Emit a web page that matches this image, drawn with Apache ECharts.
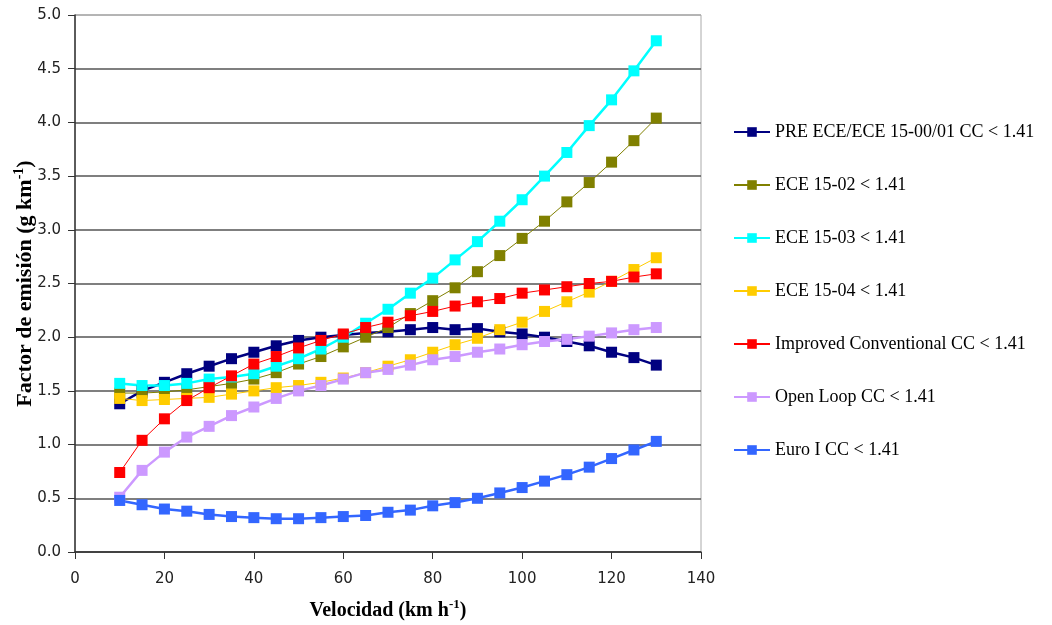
<!DOCTYPE html>
<html>
<head>
<meta charset="utf-8">
<script src="https://cdn.jsdelivr.net/npm/echarts@6/dist/echarts.min.js"></script>
<style>html,body{margin:0;padding:0;background:#fff}#c{width:1052px;height:625px}</style>
</head>
<body>
<div id="c"></div>
<script>
const speeds = [10,15,20,25,30,35,40,45,50,55,60,65,70,75,80,85,90,95,100,105,110,115,120,125,130];
const preEce = [1.38,1.50,1.58,1.66,1.73,1.80,1.86,1.92,1.97,2.00,2.02,2.04,2.05,2.07,2.09,2.07,2.08,2.05,2.03,2.00,1.96,1.92,1.86,1.81,1.74];
const ece02 = [1.48,1.48,1.49,1.51,1.54,1.57,1.61,1.67,1.75,1.82,1.91,2.00,2.09,2.22,2.34,2.46,2.61,2.76,2.92,3.08,3.26,3.44,3.63,3.83,4.04];
const ece03 = [1.57,1.55,1.55,1.57,1.61,1.63,1.66,1.73,1.80,1.89,2.00,2.13,2.26,2.41,2.55,2.72,2.89,3.08,3.28,3.50,3.72,3.97,4.21,4.48,4.76];
const ece04 = [1.43,1.41,1.42,1.43,1.44,1.47,1.50,1.53,1.55,1.58,1.62,1.67,1.73,1.79,1.86,1.93,1.99,2.07,2.14,2.24,2.33,2.42,2.52,2.63,2.74];
const improved = [0.74,1.04,1.24,1.41,1.53,1.64,1.75,1.82,1.90,1.97,2.03,2.09,2.14,2.20,2.24,2.29,2.33,2.36,2.41,2.44,2.47,2.50,2.52,2.56,2.59];
const openLoop = [0.51,0.76,0.93,1.07,1.17,1.27,1.35,1.43,1.50,1.55,1.61,1.67,1.70,1.74,1.79,1.82,1.86,1.89,1.93,1.96,1.98,2.01,2.04,2.07,2.09];
const euroI = [0.48,0.44,0.40,0.38,0.35,0.33,0.32,0.31,0.31,0.32,0.33,0.34,0.37,0.39,0.43,0.46,0.50,0.55,0.60,0.66,0.72,0.79,0.87,0.95,1.03];
const seriesNames = ['PRE ECE/ECE 15-00/01 CC < 1.41','ECE 15-02 < 1.41','ECE 15-03 < 1.41','ECE 15-04 < 1.41','Improved Conventional CC < 1.41','Open Loop CC < 1.41','Euro I CC < 1.41'];
const seriesData = [preEce, ece02, ece03, ece04, improved, openLoop, euroI];
const colors = ['#000080','#808000','#00FFFF','#FFCC00','#FF0000','#CC99FF','#3366FF'];
const widths = [2.5,1,2.5,1,1,2.5,2.5];

const chart = echarts.init(document.getElementById('c'), null, {renderer:'canvas'});
const series = seriesNames.map((n,i)=>({
  name:n, type:'line',
  data: speeds.map((s,j)=>[s, seriesData[i][j]]),
  symbol:'rect', symbolSize:11,
  itemStyle:{color:colors[i]},
  lineStyle:{color:colors[i], width:widths[i]},
  emphasis:{disabled:true},
  animation:false
}));
const splitColors = ['#555','#555','#555','#555','#555','#555','#555','#555','#555','#555','#aaa'];
chart.setOption({
  backgroundColor:'#fff',
  animation:false,
  grid:{left:75, top:15, right:351, bottom:73, containLabel:false, outerBoundsMode:'none', show:true, borderColor:'#aaa', borderWidth:1, backgroundColor:'transparent'},
  legend:{
    orient:'vertical', left:728, top:118, itemWidth:36, itemHeight:12, itemGap:35,
    textStyle:{fontFamily:'Liberation Serif', fontSize:18, color:'#000'},
    data: seriesNames
  },
  xAxis:{
    type:'value', min:0, max:140, interval:20,
    axisLine:{lineStyle:{color:'#333', width:1.5}},
    axisTick:{show:true, length:7, lineStyle:{color:'#333'}},
    axisLabel:{fontFamily:'DejaVu Sans', fontSize:15, color:'#222', margin:20},
    splitLine:{show:false},
    name:'Velocidad (km h{sup|-1})', nameLocation:'middle', nameGap:46, nameMoveOverlap:false,
    nameTextStyle:{fontFamily:'Liberation Serif', fontWeight:'bold', fontSize:20, color:'#000',
      rich:{sup:{fontFamily:'Liberation Serif', fontWeight:'bold', fontSize:13, color:'#000', padding:[0,0,12,0]}}}
  },
  yAxis:{
    type:'value', min:0, max:5, interval:0.5,
    axisLine:{show:true, lineStyle:{color:'#333', width:1.5}},
    axisTick:{show:true, length:7, lineStyle:{color:'#333'}},
    axisLabel:{fontFamily:'DejaVu Sans', fontSize:15, color:'#222', margin:14, formatter:v=>v.toFixed(1)},
    splitLine:{show:true, lineStyle:{color:splitColors, width:1.5}},
    name:'Factor de emisión (g km{sup|-1})', nameLocation:'middle', nameGap:37, nameRotate:90, nameMoveOverlap:false,
    nameTextStyle:{fontFamily:'Liberation Serif', fontWeight:'bold', fontSize:22, color:'#000',
      rich:{sup:{fontFamily:'Liberation Serif', fontWeight:'bold', fontSize:14, color:'#000', padding:[0,0,12,0]}}}
  },
  series: series
});
</script>
</body>
</html>
